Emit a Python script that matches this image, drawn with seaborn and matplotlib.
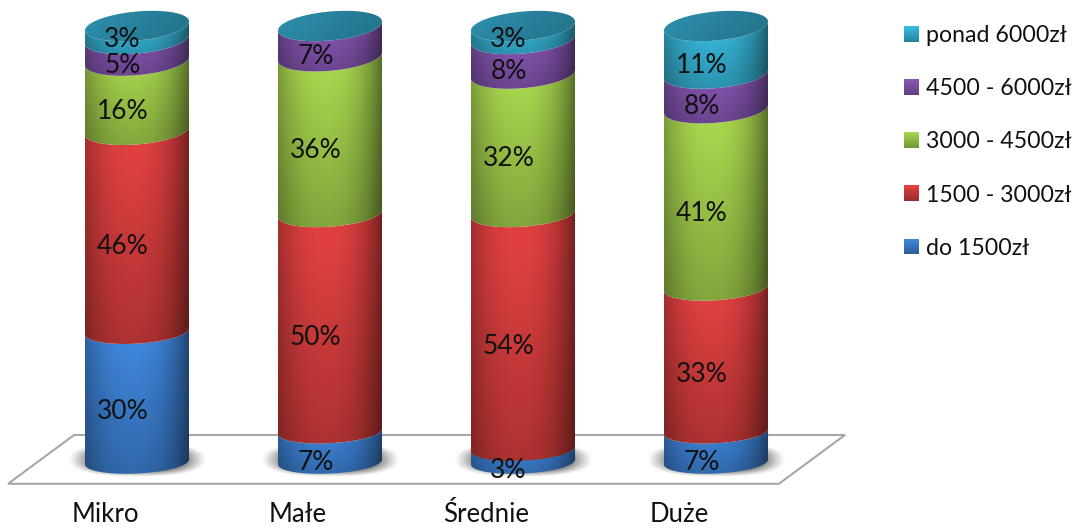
import numpy as np
import pandas as pd
import matplotlib
matplotlib.use("Agg")
import matplotlib.pyplot as plt
from matplotlib.legend_handler import HandlerBase
from matplotlib.patches import Patch, Polygon, Rectangle
from matplotlib.colors import to_rgb
from matplotlib.transforms import ScaledTranslation
import seaborn as sns

# Wage bands by company size, percent of employees
firmy = ["Mikro", "Małe", "Średnie", "Duże"]
przedzialy = ["do 1500zł", "1500 - 3000zł", "3000 - 4500zł", "4500 - 6000zł", "ponad 6000zł"]
do_1500 = [30, 7, 3, 7]
od_1500 = [46, 50, 54, 33]
od_3000 = [16, 36, 32, 41]
od_4500 = [5, 7, 8, 8]
ponad_6000 = [3, 0, 3, 11]
serie = [do_1500, od_1500, od_3000, od_4500, ponad_6000]
kolory = ["#3f86dc", "#e04040", "#a8d64e", "#8a58b8", "#38bce0"]
kolor_wieczka = "#2e93b2"

sns.set_theme(style="white")
plt.rcParams["font.family"] = ["Lato", "DejaVu Sans"]

W, H = 1076, 529
fig = plt.figure(figsize=(W / 100, H / 100), dpi=100, facecolor="white")
ax = fig.add_axes([40.5 / W, (H - 462) / H, 772 / W, 436 / H])
PX_Y = 4.36          # pixels per percent
BAR_W = 0.539        # bar width in category units
TEKST = "#111111"


def ellipse_params(v):
    """Half-height and tilt of a cylinder section at level v, in percent units."""
    return (11.5 + 3.0 * v / 100) / PX_Y, (2.5 + 2.0 * v / 100) / PX_Y


def ellipse(xc, half_w, v, t0, t1, n=60):
    b, tilt = ellipse_params(v)
    th = np.linspace(t0, t1, n)
    return np.c_[xc + half_w * np.cos(th), v + tilt * np.cos(th) + b * np.sin(th)]


def shaded(color, nx=120, ny=120, top=1.0, bottom=0.72):
    """Cylinder shading: bright band left of centre, darker to the sides and downwards."""
    u = np.linspace(-1, 1, nx)
    left = 0.72 + 0.28 * (1 - np.clip(np.abs(u + 0.1) / 0.9, 0, 1) ** 2.2)
    right = 0.50 + 0.50 * (1 - np.clip(np.abs(u + 0.1) / 1.1, 0, 1) ** 2.4)
    hs = np.where(u < -0.1, left, right)
    w = np.linspace(bottom, top, ny)
    w = np.minimum(w + 0.05, top)
    arr = np.einsum("i,j,k->ijk", w, hs, np.array(to_rgb(color)))
    return np.clip(arr, 0, 1)


def cap_shading(color, nx=120, ny=60):
    """The flat top face only fades slightly towards its far right side."""
    hs = np.linspace(1.0, 0.82, nx)
    w = np.linspace(0.92, 1.0, ny)
    return np.einsum("i,j,k->ijk", w, hs, np.array(to_rgb(color)))


def put_image(arr, xc, half_w, y0, y1, outline, zorder):
    im = ax.imshow(arr, extent=(xc - half_w, xc + half_w, y0, y1), origin="lower",
                   aspect="auto", interpolation="bilinear", zorder=zorder)
    im.set_clip_box(fig.bbox)
    im.set_clip_path(Polygon(outline, closed=True, transform=ax.transData))
    return im


# Floor plate under the bars
podloga = np.array([(-0.668, -5.0), (-0.326, 6.2), (3.668, 6.2), (3.326, -5.0)])
ax.add_patch(Polygon(podloga, closed=True, facecolor="white", edgecolor="#a6a6a6",
                     linewidth=1.5, zorder=1, clip_on=False))

# Soft shadows on the floor
yy, xx = np.mgrid[-1:1:80j, -1:1:160j]
r = (np.abs(xx) ** 2.5 + np.abs(yy) ** 2.5) ** (1 / 2.5)
cien = np.zeros(r.shape + (4,))
cien[..., :3] = to_rgb("#404040")
cien[..., 3] = 0.85 * np.clip((1 - r) * 2.6, 0, 1) ** 1.2
for i in range(len(firmy)):
    im = ax.imshow(cien, extent=(i - 0.36, i + 0.36, -3.4, 4.4), origin="lower",
                   aspect="auto", interpolation="bilinear", zorder=2)
    im.set_clip_on(False)

# Stacked bars: seaborn lays out the segments, cylinders follow their geometry
podstawa = np.zeros(len(firmy))
segmenty = []
for nazwa, wartosci, kolor in zip(przedzialy, serie, kolory):
    df = pd.DataFrame({"firma": firmy, "udzial": wartosci})
    przed = len(ax.patches)
    sns.barplot(data=df, x="firma", y="udzial", order=firmy, bottom=podstawa,
                color=kolor, width=BAR_W, saturation=1, ax=ax, legend=False, zorder=3)
    for rect in ax.patches[przed:]:
        rect.set_visible(False)
        segmenty.append((rect, kolor))
    podstawa = podstawa + np.array(wartosci, dtype=float)

for rect, kolor in segmenty:
    v0, h = rect.get_y(), rect.get_height()
    if h <= 0:
        continue
    half_w = rect.get_width() / 2
    xc = rect.get_x() + half_w
    v1 = v0 + h
    dol = ellipse(xc, half_w, v0, np.pi, 2 * np.pi)
    gora = ellipse(xc, half_w, v1, 2 * np.pi, np.pi)
    b0 = ellipse_params(v0)[0]
    b1 = ellipse_params(v1)[0]
    put_image(shaded(kolor), xc, half_w, v0 - b0 - 1, v1 + b1 + 1, np.r_[dol, gora], 3)
    # thin segments at the very top keep their label inside the cap area
    y_tekst = (v0 + v1) / 2 - (1.5 if v1 >= 100 and h < 5 else 3.5)
    ax.text(xc - 0.075, y_tekst, f"{int(h)}%", ha="center", va="center",
            fontsize=19, color=TEKST, zorder=6, clip_on=False)

# Caps on top of the stacks
for i in range(len(firmy)):
    top = podstawa[i]
    half_w = BAR_W / 2
    wieko = ellipse(i, half_w, top, 0, 2 * np.pi, 120)
    b, tilt = ellipse_params(top)
    put_image(cap_shading(kolor_wieczka), i, half_w, top - b - 1, top + b + 1, wieko, 5)

ax.set_xlim(-0.5, 3.5)
ax.set_ylim(0, 100)
ax.set_xlabel("")
ax.set_ylabel("")
ax.set_yticks([])
ax.set_xticks(range(len(firmy)))
ax.set_xticklabels(firmy, fontsize=18.5, color=TEKST)
ax.tick_params(axis="x", length=0, pad=29)
# category names sit left of their bars
for lab, dx in zip(ax.get_xticklabels(), [-32, -32, -37, -37]):
    lab.set_transform(lab.get_transform() + ScaledTranslation(dx / 100, 0, fig.dpi_scale_trans))
sns.despine(ax=ax, left=True, bottom=True)
ax.patch.set_alpha(0)


class GradientHandle(HandlerBase):
    """Legend key drawn as a small vertical gradient, light at the top."""

    def create_artists(self, legend, orig, xd, yd, width, height, fontsize, trans):
        base = np.array(to_rgb(orig.get_facecolor()))
        n = 16
        out = []
        for k in range(n):
            f = 0.68 + 0.32 * (k + 1) / n
            out.append(Rectangle((xd * -1, -yd + height * k / n), width, height / n + 0.2,
                                 facecolor=base * f, edgecolor="none", transform=trans))
        return out


uchwyty = [Patch(facecolor=c, label=n) for n, c in zip(przedzialy, kolory)][::-1]
leg = fig.legend(handles=uchwyty, loc="upper left", bbox_to_anchor=(904 / W, 1 - 25 / H),
                 frameon=False, fontsize=16.7, labelcolor=TEKST, borderpad=0, borderaxespad=0,
                 handlelength=0.65, handleheight=0.65, handletextpad=0.3, labelspacing=1.387,
                 handler_map={Patch: GradientHandle()})

fig.savefig("out.png", dpi=100, facecolor="white")
